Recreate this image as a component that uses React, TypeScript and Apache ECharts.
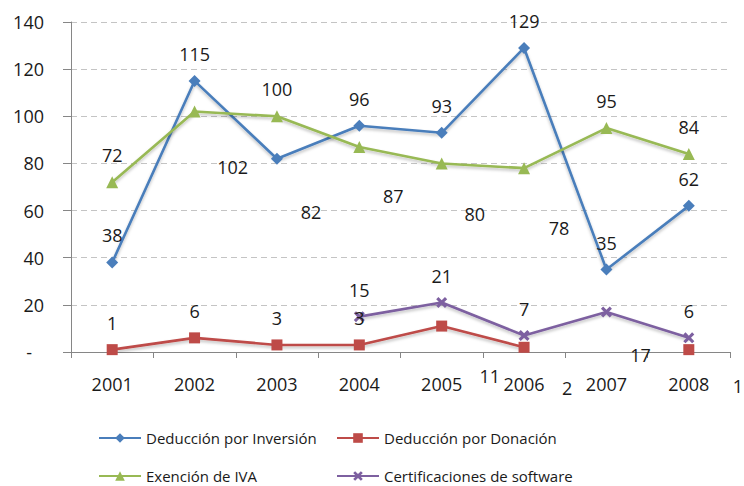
import React, { useEffect, useRef } from "react";
import * as echarts from "echarts";

const categories = ["2001", "2002", "2003", "2004", "2005", "2006", "2007", "2008"];
const inversion = [38, 115, 82, 96, 93, 129, 35, 62];
const donacion = [1, 6, 3, 3, 11, 2, null, 1];
const iva = [72, 102, 100, 87, 80, 78, 95, 84];
const software = [null, null, null, 15, 21, 7, 17, 6];
const seriesNames = [
  "Deducción por Inversión",
  "Deducción por Donación",
  "Exención de IVA",
  "Certificaciones de software",
];
const yMin = 0;
const yMax = 140;
const yStep = 20;

// label displacements (layout only), by category index
const inversionShift: Record<number, [number, number]> = { 2: [34, 80] };
const ivaShift: Record<number, [number, number]> = {
  1: [38, 82],
  3: [34, 76],
  4: [33, 78],
  5: [35, 87],
};
const donacionShift: Record<number, [number, number]> = {
  4: [48, 76],
  5: [43, 67],
  7: [49, 63],
};
const softwareShift: Record<number, [number, number]> = { 6: [34, 70] };

const FONT = "Open Sans";
const XPATH =
  "path://M2,0 L5,3 L8,0 L10,2 L7,5 L10,8 L8,10 L5,7 L2,10 L0,8 L3,5 L0,2 Z";

function makeSeries(
  name: string,
  values: (number | null)[],
  color: string,
  symbol: string,
  symbolSize: number,
  shifts: Record<number, [number, number]>
) {
  return {
    type: "line",
    name,
    data: values.map((v, i) =>
      v == null ? "-" : shifts[i] ? { value: v, label: { offset: shifts[i] } } : v
    ),
    connectNulls: false,
    symbol,
    symbolSize,
    itemStyle: { color },
    lineStyle: {
      color,
      width: 2.6,
      shadowColor: "rgba(0,0,0,0.25)",
      shadowBlur: 3,
      shadowOffsetY: 2,
    },
    label: {
      show: true,
      position: "top",
      distance: 12,
      fontSize: 18,
      fontFamily: FONT,
      color: "#1a1a1a",
    },
  };
}

export default function App() {
  const ref = useRef<HTMLDivElement>(null);
  useEffect(() => {
    if (!ref.current) return;
    const chart = echarts.init(ref.current, undefined, { renderer: "svg" });
    const legendCommon = {
      itemWidth: 42,
      itemHeight: 12,
      padding: 0,
      textStyle: { fontSize: 15, fontFamily: FONT, color: "#1a1a1a", lineHeight: 20 },
    };
    chart.setOption({
      animation: false,
      backgroundColor: "#ffffff",
      grid: { left: 71, right: 14, top: 22, bottom: 134, containLabel: false },
      legend: [
        { ...legendCommon, data: [seriesNames[0]], left: 98, top: 428 },
        { ...legendCommon, data: [seriesNames[1]], left: 336, top: 428 },
        { ...legendCommon, data: [seriesNames[2]], left: 98, bottom: 0 },
        { ...legendCommon, data: [seriesNames[3]], left: 336, bottom: 0 },
      ],
      xAxis: {
        type: "category",
        data: categories,
        boundaryGap: true,
        axisLine: { show: true, lineStyle: { color: "#868686", width: 1 } },
        axisTick: { show: true, length: 6, alignWithLabel: false, lineStyle: { color: "#868686" } },
        axisLabel: { margin: 23, fontSize: 18, fontFamily: FONT, color: "#1a1a1a" },
        splitLine: { show: false },
      },
      yAxis: {
        type: "value",
        min: yMin,
        max: yMax,
        interval: yStep,
        axisLine: { show: true, lineStyle: { color: "#868686", width: 1 } },
        axisTick: { show: true, length: 8, lineStyle: { color: "#868686" } },
        axisLabel: {
          margin: 27,
          fontSize: 18,
          fontFamily: FONT,
          color: "#1a1a1a",
          formatter: (v: number) => (v === 0 ? "{d|-}" : String(v)),
          rich: {
            d: { fontSize: 18, fontFamily: FONT, color: "#1a1a1a", padding: [0, 12, 0, 0] },
          },
        },
        splitLine: { show: true, lineStyle: { color: "#c4c4c4", type: [6, 4], width: 1 } },
      },
      series: [
        makeSeries(seriesNames[0], inversion, "#4a7ebb", "diamond", 12, inversionShift),
        makeSeries(seriesNames[1], donacion, "#be4b48", "rect", 11, donacionShift),
        makeSeries(seriesNames[2], iva, "#98b954", "triangle", 12, ivaShift),
        makeSeries(seriesNames[3], software, "#7d60a0", XPATH, 11, softwareShift),
      ],
    });
    return () => chart.dispose();
  }, []);
  return (
    <div
      ref={ref}
      style={{ position: "fixed", left: 0, top: 0, width: 744, height: 486, background: "#fff" }}
    />
  );
}
